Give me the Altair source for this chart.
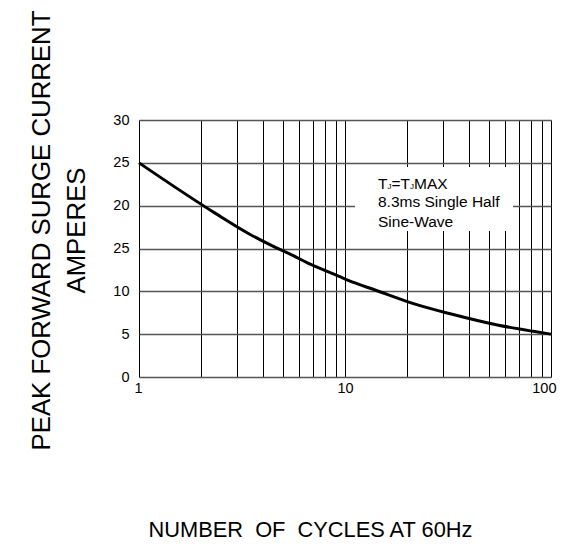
import altair as alt
import pandas as pd

# Curve (number of cycles vs peak surge current, A)
cycles = [1, 2.35, 3.43, 4.62, 5.57, 6.61, 8.65, 10.3, 14.2, 21.3, 32.8, 54.9, 82, 100]
amps = [25.0, 19.1, 16.7, 15.1, 14.2, 13.3, 12.1, 11.3, 10.1, 8.6, 7.35, 6.07, 5.33, 5.0]

x_grid = [1, 2, 3, 4, 5, 6, 7, 8, 9, 10, 20, 30, 40, 50, 60, 70, 80, 90, 100]
x_labels = {1: "1", 10: "10", 100: "100"}
y_ticks = [0, 5, 10, 15, 20, 25, 30]
y_tick_labels = ["0", "5", "10", "25", "20", "25", "30"]  # as printed in the original

note_lines = ["8.3ms Single Half", "Sine-Wave"]
note_x = 14.46
note_y = [20.37, 18.09]
note_first_y = 22.5
box_x = [11.18, 65.4]
box_y = [17.04, 24.51]

FONT = "Liberation Sans"
NOTE_FS = 15.5

curve_df = pd.DataFrame({"cycles": cycles, "amps": amps})

xlab_expr = " : ".join(
    [f"datum.value == {k} ? '{v}'" for k, v in x_labels.items()]) + " : ''"
ylab_expr = " : ".join(
    [f"datum.value == {t} ? '{l}'" for t, l in zip(y_ticks, y_tick_labels)]) + " : ''"

x_scale = alt.Scale(type="log", domain=[1, 100], nice=False)
y_scale = alt.Scale(domain=[0, 30], nice=False)

x_axis = alt.Axis(
    values=x_grid, labelExpr=xlab_expr, labelOverlap=False,
    labelFlush=True, labelFlushOffset=5,
    title="NUMBER\u00a0\u00a0OF\u00a0\u00a0CYCLES AT 60Hz",
    titleFont=FONT, titleFontSize=21.8, titleFontWeight="normal", titleColor="black",
    titleX=171, titleY=152, titleAlign="center", titleBaseline="middle",
    titleAnchor="start",
    grid=True, gridColor="#000000", gridWidth=1, gridOpacity=1,
    ticks=False, domain=False, labelFont=FONT, labelFontSize=14.5,
    labelColor="black", labelPadding=4,
)
y_axis = alt.Axis(
    values=y_ticks, labelExpr=ylab_expr, labelOverlap=False, labelFlush=False,
    title=["PEAK FORWARD SURGE CURRENT", "AMPERES"],
    titleFont=FONT, titleFontSize=25.8, titleFontWeight="normal", titleColor="black",
    titleLineHeight=35, titleX=-97.6, titleY=110, titleAlign="center",
    titleBaseline="middle", titleAngle=-90,
    grid=True, gridColor="#555555", gridWidth=1.3, gridOpacity=1,
    ticks=False, domain=False, labelFont=FONT, labelFontSize=14.5,
    labelColor="black", labelPadding=10,
)

base = alt.Chart(curve_df)

curve = base.mark_line(color="black", strokeWidth=3, interpolate="monotone").encode(
    x=alt.X("cycles:Q", scale=x_scale, axis=x_axis),
    y=alt.Y("amps:Q", scale=y_scale, axis=y_axis),
)

box_df = pd.DataFrame({"x1": [box_x[0]], "x2": [box_x[1]], "y1": [box_y[0]], "y2": [box_y[1]]})
box = alt.Chart(box_df).mark_rect(color="white", opacity=1).encode(
    x=alt.X("x1:Q", scale=x_scale), x2="x2:Q",
    y=alt.Y("y1:Q", scale=y_scale), y2="y2:Q",
)

notes_df = pd.DataFrame({"x": [note_x] * len(note_lines), "y": note_y, "t": note_lines})
notes = alt.Chart(notes_df).mark_text(
    align="left", baseline="middle", font=FONT, fontSize=NOTE_FS, color="black"
).encode(x=alt.X("x:Q", scale=x_scale), y=alt.Y("y:Q", scale=y_scale), text="t:N")

# first note line "TJ=TJMAX" with subscript J
segs = [("T", 0, 0, NOTE_FS), ("J", 9.4, 3, 8), ("=T", 13.4, 0, NOTE_FS),
        ("J", 32.0, 3, 8), ("MAX", 36.0, 0, NOTE_FS)]
first_layers = []
for txt, dx, dy, fs in segs:
    sdf = pd.DataFrame({"x": [note_x], "y": [note_first_y], "t": [txt]})
    first_layers.append(
        alt.Chart(sdf).mark_text(
            align="left", baseline="middle", font=FONT, fontSize=fs, color="black",
            dx=dx, dy=dy,
        ).encode(x=alt.X("x:Q", scale=x_scale), y=alt.Y("y:Q", scale=y_scale), text="t:N")
    )

chart = alt.layer(curve, box, notes, *first_layers).properties(
    width=412, height=257,
    autosize=alt.AutoSizeParams(type="none"),
    padding={"left": 131, "top": 112, "right": 10, "bottom": 163},
).configure_view(stroke="#777777", strokeWidth=1.3).configure(background="white")

chart.save("out.html", embed_options={"renderer": "svg", "actions": False})
